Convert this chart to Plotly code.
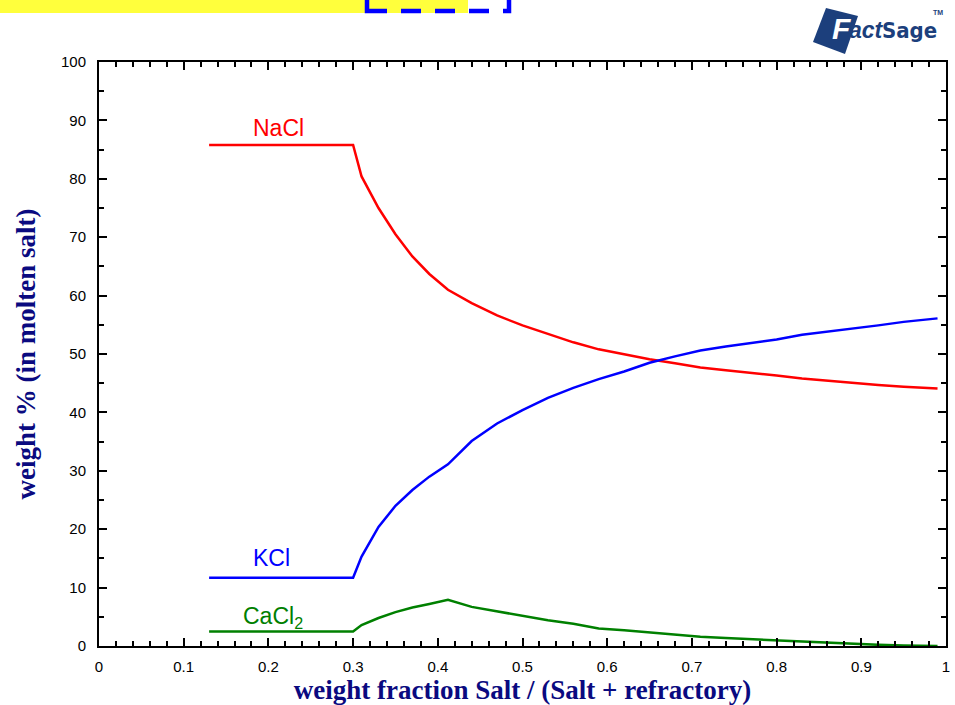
import plotly.graph_objects as go

# Composition of the molten salt vs. weight fraction of salt
salt_fraction = [0.13, 0.30, 0.31, 0.33, 0.35, 0.37, 0.39, 0.412, 0.44, 0.47,
                 0.50, 0.53, 0.56, 0.59, 0.62, 0.65, 0.68, 0.71, 0.74, 0.77,
                 0.80, 0.83, 0.86, 0.89, 0.92, 0.95, 0.99]
nacl = [85.8, 85.8, 80.4, 75.0, 70.5, 66.7, 63.7, 61.0, 58.7, 56.6,
        54.9, 53.4, 52.0, 50.8, 49.9, 49.1, 48.4, 47.7, 47.2, 46.8,
        46.3, 45.8, 45.4, 45.0, 44.7, 44.4, 44.1]
kcl = [11.7, 11.7, 15.3, 20.4, 24.0, 26.7, 29.0, 31.1, 35.1, 38.1,
       40.4, 42.5, 44.2, 45.7, 47.0, 48.5, 49.6, 50.6, 51.3, 51.9,
       52.5, 53.3, 53.8, 54.4, 54.9, 55.5, 56.1]
cacl2 = [2.5, 2.5, 3.6, 4.8, 5.8, 6.6, 7.2, 7.9, 6.7, 5.9,
         5.1, 4.4, 3.8, 3.0, 2.7, 2.3, 1.9, 1.6, 1.35, 1.15,
         0.9, 0.75, 0.55, 0.4, 0.2, 0.1, 0.0]

# (label, values, colour, label x, label y)
series = [("NaCl", nacl, "#ff0000", 0.212, 88.7),
          ("KCl", kcl, "#0000ff", 0.204, 15.1),
          ("CaCl<sub>2</sub>", cacl2, "#008000", 0.205, 4.9)]

W, H = 955, 705
L, R, T, B = 99, 9, 62, 59
PW, PH = W - L - R, H - T - B


def px(x):
    return (x - L) / PW


def py(y):
    return (H - B - y) / PH


fig = go.Figure()
annotations = []
for name, vals, color, lx, ly in series:
    fig.add_trace(go.Scatter(x=salt_fraction, y=vals, mode="lines", name=name,
                             line=dict(color=color, width=2.5)))
    annotations.append(dict(x=lx, y=ly, xref="x", yref="y", text=name,
                            showarrow=False, yanchor="middle", xanchor="center",
                            font=dict(family="Liberation Sans", size=23, color=color)))

NAVY = "#1c3f7c"
logo_font = "Liberation Sans Narrow, DejaVu Sans Condensed, Liberation Sans"

# header strip and dashed frame at the top edge, plus the logo badge
shapes = [
    dict(type="rect", xref="paper", yref="paper", x0=px(0), x1=px(468),
         y0=py(13), y1=py(-5), fillcolor="#ffff3c", line=dict(width=0), layer="below"),
    dict(type="rect", xref="paper", yref="paper", x0=px(367), x1=px(509),
         y0=py(11), y1=py(-40), line=dict(color="#0000ff", width=4.5, dash="20px,14px")),
    dict(type="path", xref="paper", yref="paper",
         path=f"M {px(826)},{py(8)} L {px(858)},{py(16)} L {px(845)},{py(54)} L {px(813)},{py(42)} Z",
         fillcolor=NAVY, line=dict(width=0)),
]
annotations += [
    dict(x=px(830), y=py(47), xref="paper", yref="paper", text="<b><i>F</i></b>",
         showarrow=False, xanchor="left", yanchor="bottom",
         font=dict(family="Liberation Sans", size=30, color="white")),
    dict(x=px(847), y=py(45), xref="paper", yref="paper", text="<b><i>act</i></b>",
         showarrow=False, xanchor="left", yanchor="bottom",
         font=dict(family="Liberation Sans", size=23, color=NAVY)),
    dict(x=px(880), y=py(45), xref="paper", yref="paper", text="<b>Sage</b>",
         showarrow=False, xanchor="left", yanchor="bottom",
         font=dict(family=logo_font, size=22, color=NAVY)),
    dict(x=px(931), y=py(13), xref="paper", yref="paper", text="<b>TM</b>",
         showarrow=False, xanchor="left", yanchor="middle",
         font=dict(family="Liberation Sans", size=7, color=NAVY)),
]

axis_common = dict(showline=True, linecolor="black", linewidth=2, mirror="allticks",
                   ticks="inside", ticklen=8, tickwidth=1.5, tickcolor="black",
                   showgrid=False, zeroline=False, automargin=False,
                   tickfont=dict(family="Liberation Sans", size=15, color="black"))
title_font = dict(family="Liberation Serif", size=27, color="#0a0a80", weight="bold")

fig.update_layout(
    width=W, height=H, margin=dict(l=L, r=R, t=T, b=B, pad=0, autoexpand=False),
    paper_bgcolor="white", plot_bgcolor="white", showlegend=False,
    shapes=shapes, annotations=annotations,
    xaxis=dict(range=[0, 1], dtick=0.1, tick0=0, tickformat="~g", ticklabelstandoff=6,
               minor=dict(dtick=0.02, ticks="inside", ticklen=5, tickwidth=1.5, tickcolor="black"),
               title=dict(text="weight fraction Salt / (Salt + refractory)", standoff=4,
                          font=title_font),
               **axis_common),
    yaxis=dict(range=[0, 100], dtick=10, tick0=0, ticklabelstandoff=8,
               minor=dict(dtick=5, ticks="inside", ticklen=5, tickwidth=1.5, tickcolor="black"),
               title=dict(text="weight % (in molten salt)", standoff=18, font=title_font),
               **axis_common),
)

fig.write_html("out.html")
